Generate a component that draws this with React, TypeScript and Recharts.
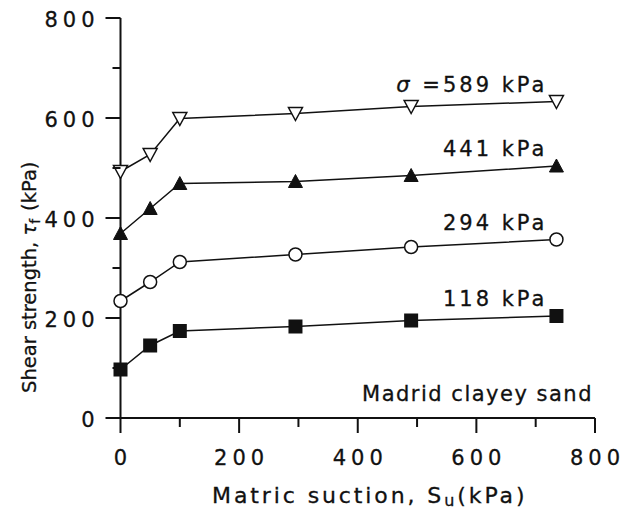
import { LineChart, Line, XAxis, YAxis, Label } from 'recharts';

// matric suction (kPa) at each test point
const suction = [0, 50, 100, 295, 490, 735];
// shear strength (kPa) for each net normal stress
const tau589 = [493, 527, 599, 609, 623, 633];
const tau441 = [369, 419, 469, 473, 485, 504];
const tau294 = [234, 272, 312, 327, 342, 357];
const tau118 = [97, 145, 174, 183, 195, 204];

const xTicks = [0, 100, 200, 300, 400, 500, 600, 700, 800];
const yTicks = [0, 100, 200, 300, 400, 500, 600, 700, 800];

const data = suction.map((s, i) => ({
  s,
  t589: tau589[i],
  t441: tau441[i],
  t294: tau294[i],
  t118: tau118[i],
}));

const FONT = '"DejaVu Sans", Arial, Helvetica, sans-serif';
const INK = '#111';
const txt = { fontFamily: FONT, fill: INK, stroke: INK, strokeWidth: 0.3 };

const TriDown = ({ cx, cy }: any) => (
  <polygon
    points={`${cx - 7},${cy - 6} ${cx + 7},${cy - 6} ${cx},${cy + 7}`}
    fill="#fff" stroke={INK} strokeWidth={1.5}
  />
);
const TriUp = ({ cx, cy }: any) => (
  <polygon
    points={`${cx - 7},${cy + 6} ${cx + 7},${cy + 6} ${cx},${cy - 7}`}
    fill={INK} stroke={INK} strokeWidth={1}
  />
);
const Ring = ({ cx, cy }: any) => (
  <circle cx={cx} cy={cy} r={6.5} fill="#fff" stroke={INK} strokeWidth={1.5} />
);
const Box = ({ cx, cy }: any) => (
  <rect x={cx - 7} y={cy - 7} width={14} height={14} fill={INK} />
);

const XTick = ({ x, y, payload }: any) => {
  const major = payload.value % 200 === 0;
  return (
    <g>
      <line x1={x} y1={y} x2={x} y2={y + (major ? 15 : 9)} stroke={INK} strokeWidth={2} />
      {major && (
        <text x={x + 2.5} y={y + 47} textAnchor="middle" fontSize={21} letterSpacing={5} {...txt}>
          {payload.value}
        </text>
      )}
    </g>
  );
};

const YTick = ({ x, y, payload }: any) => {
  const major = payload.value % 200 === 0;
  return (
    <g>
      <line x1={x} y1={y} x2={x - (major ? 15 : 8)} y2={y} stroke={INK} strokeWidth={2} />
      {major && (
        <text x={x - 21} y={y + 8.5} textAnchor="end" fontSize={21} letterSpacing={5} {...txt}>
          {payload.value}
        </text>
      )}
    </g>
  );
};

// label drawn next to the last point of each curve
const endLabel = (text: React.ReactNode) => (props: any) => {
  const { x, y, index } = props;
  if (index !== suction.length - 1) return null;
  return (
    <text x={x - 9} y={y - 10} textAnchor="end" fontSize={21} letterSpacing={3} {...txt}>
      {text}
    </text>
  );
};

export default function App() {
  return (
    <div style={{ position: 'absolute', left: 0, top: 0, background: '#fff' }}>
      <LineChart width={632} height={510} data={data}
        margin={{ top: 18, right: 37, bottom: 0, left: 0 }}>
        <XAxis dataKey="s" type="number" domain={[0, 800]} ticks={xTicks} interval={0}
          height={92} tickSize={0} tickMargin={0} tickLine={false} tick={<XTick />}
          axisLine={{ stroke: INK, strokeWidth: 2 }}>
          <Label content={() => (
            <text x={212} y={503} fontSize={22} letterSpacing={2.9} {...txt}>
              Matric suction, S<tspan fontSize={16} dy={3}>u</tspan><tspan dy={-3}>(kPa)</tspan>
            </text>
          )} />
        </XAxis>
        <YAxis type="number" domain={[0, 800]} ticks={yTicks} interval={0}
          width={120.5} tickSize={0} tickMargin={0} tickLine={false} tick={<YTick />}
          axisLine={{ stroke: INK, strokeWidth: 2 }}>
          <Label content={() => (
            <text transform="translate(36,393) rotate(-90)" fontSize={19.5} letterSpacing={0} {...txt}>
              Shear strength, <tspan fontStyle="italic">τ</tspan>
              <tspan fontSize={14} dy={4}>f</tspan>
              <tspan dy={-4} dx={8}>(kPa)</tspan>
            </text>
          )} />
        </YAxis>
        <Line dataKey="t589" stroke={INK} strokeWidth={1.5} dot={<TriDown />}
          isAnimationActive={false}
          label={endLabel(<><tspan fontStyle="italic">σ</tspan> =589 kPa</>)} />
        <Line dataKey="t441" stroke={INK} strokeWidth={1.5} dot={<TriUp />}
          isAnimationActive={false} label={endLabel('441 kPa')} />
        <Line dataKey="t294" stroke={INK} strokeWidth={1.5} dot={<Ring />}
          isAnimationActive={false} label={endLabel('294 kPa')} />
        <Line dataKey="t118" stroke={INK} strokeWidth={1.5} dot={<Box />}
          isAnimationActive={false} label={endLabel('118 kPa')} />
        <text x={593} y={401} textAnchor="end" fontSize={21} letterSpacing={1.5} {...txt}>
          Madrid clayey sand
        </text>
      </LineChart>
    </div>
  );
}
